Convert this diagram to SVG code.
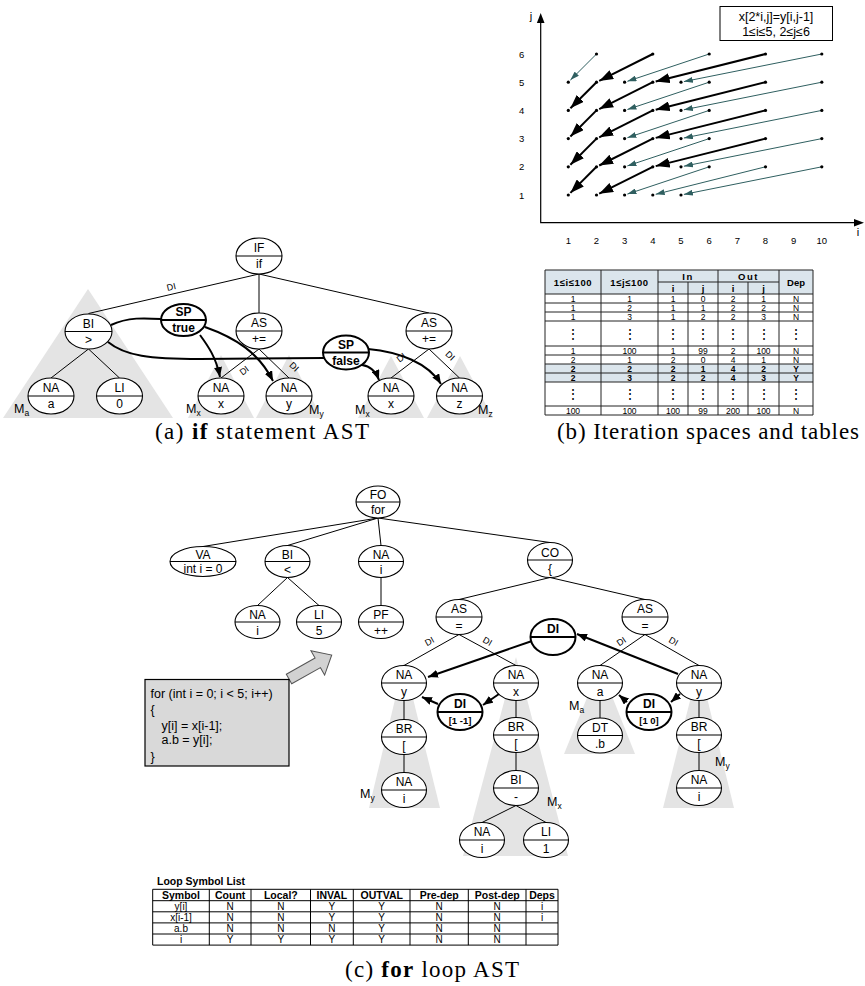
<svg xmlns="http://www.w3.org/2000/svg" width="865" height="986" viewBox="0 0 865 986">
<style>
  text { font-family: "Liberation Sans", Arial, sans-serif; fill: #000; }
  .n ellipse { fill: #fff; stroke: #000; stroke-width: 1.1; }
  .n line { stroke: #000; stroke-width: 1.1; }
  .n text { font-size: 12px; text-anchor: middle; }
  .n.b ellipse { stroke-width: 2; }
  .n.b line { stroke-width: 1.8; }
  .n.b text { font-weight: bold; }
  .n.b text.s { font-size: 9.5px; }
  .e line, .e path { stroke: #000; stroke-width: 1; fill: none; }
  .e .k { stroke-width: 2; }
  .sh { fill: #e4e4e4; }
  .lbl { font-size: 9px; text-anchor: middle; }
  .m { font-size: 12.5px; }
  .m tspan { font-size: 8.5px; }
  .ax { stroke: #000; stroke-width: 1.2; fill: none; }
  .tk { font-size: 9.5px; text-anchor: middle; }
  .pt { fill: #000; }
  .thin { stroke: #2f5f60; stroke-width: 1; fill: none; marker-end: url(#hT); }
  .thick { stroke: #000; stroke-width: 2; fill: none; marker-end: url(#hK); }
  .grid line { stroke: #222; stroke-width: 1; }
  .tb { font-size: 8.5px; text-anchor: middle; }
  .th { font-size: 9.5px; font-weight: bold; text-anchor: middle; }
  .vd { font-family: "DejaVu Sans", sans-serif; font-size: 14px; text-anchor: middle; }
  .lt line { stroke: #000; stroke-width: 1; }
  .lh { font-size: 10.5px; font-weight: bold; text-anchor: middle; }
  .ld { font-size: 10px; text-anchor: middle; }
  .cap { font-family: "Liberation Serif", "Times New Roman", serif; font-size: 23px; text-anchor: middle; }
  .code { font-size: 12.5px; }
</style>
<defs>
  <marker id="h" viewBox="0 0 10 8" refX="10" refY="4" markerWidth="10" markerHeight="8" markerUnits="userSpaceOnUse" orient="auto">
    <path d="M0,0 L10,4 L0,8 z" fill="#000"/>
  </marker>
  <marker id="hT" viewBox="0 0 9 6" refX="9" refY="3" markerWidth="9" markerHeight="6" markerUnits="userSpaceOnUse" orient="auto">
    <path d="M0,0 L9,3 L0,6 z" fill="#2f5f60"/>
  </marker>
  <marker id="hK" viewBox="0 0 14 10" refX="14" refY="5" markerWidth="14" markerHeight="10" markerUnits="userSpaceOnUse" orient="auto">
    <path d="M0,0 L14,5 L0,10 z" fill="#000"/>
  </marker>
</defs>
<rect width="865" height="986" fill="#fff"/>

<!-- ===== (a) if statement AST ===== -->
<g id="a-scopes">
  <polygon class="sh" points="88,289 173,418 3,418"/>
  <polygon class="sh" points="221,355 254,418 188,418"/>
  <polygon class="sh" points="289,355 322,418 256,418"/>
  <polygon class="sh" points="391,356 424,418 358,418"/>
  <polygon class="sh" points="460,356 493,418 427,418"/>
  <text class="m" x="14" y="413">M<tspan dy="3">a</tspan></text>
  <text class="m" x="186" y="413">M<tspan dy="3">x</tspan></text>
  <text class="m" x="309" y="414">M<tspan dy="3">y</tspan></text>
  <text class="m" x="355" y="414">M<tspan dy="3">x</tspan></text>
  <text class="m" x="478" y="414">M<tspan dy="3">z</tspan></text>
</g>

<g id="a-edges" class="e">
  <line x1="259" y1="274" x2="88.5" y2="313.5"/>
  <line x1="259" y1="274" x2="259" y2="313"/>
  <line x1="259" y1="274" x2="429" y2="313"/>
  <line x1="88.5" y1="349" x2="51" y2="378"/>
  <line x1="88.5" y1="349" x2="119.5" y2="378"/>
  <line x1="259" y1="349" x2="221" y2="378"/>
  <line x1="259" y1="349" x2="289" y2="378"/>
  <line x1="429" y1="349" x2="391" y2="378"/>
  <line x1="429" y1="349" x2="459.5" y2="378"/>
  <path class="k" d="M111,325 C128,317 145,318 161,319"/>
  <path class="k" d="M108,342 C125,356 150,359 200,359 L324,358"/>
  <path class="k" d="M200,335 C208,346 216,357 220,377" marker-end="url(#h)"/>
  <path class="k" d="M205,327 C236,338 259,353 273,381" marker-end="url(#h)"/>
  <path class="k" d="M362,365 C370,366 376,372 379,380" marker-end="url(#h)"/>
  <path class="k" d="M368,349 C400,352 428,363 441,384" marker-end="url(#h)"/>
  <text class="lbl" transform="translate(172,290) rotate(-13.2)">DI</text>
  <text class="lbl" transform="translate(246,373) rotate(-37)">DI</text>
  <text class="lbl" transform="translate(292,369) rotate(44)">DI</text>
  <text class="lbl" transform="translate(403,360) rotate(-37)">DI</text>
  <text class="lbl" transform="translate(448,358) rotate(44)">DI</text>
</g>

<g id="a-if" class="n"><ellipse cx="259" cy="256" rx="23" ry="18"/><line x1="236" y1="256" x2="282" y2="256"/><text x="259" y="252">IF</text><text x="259" y="268">if</text></g>
<g id="a-bi" class="n"><ellipse cx="88.5" cy="331.5" rx="23.5" ry="17.5"/><line x1="65" y1="331.5" x2="112" y2="331.5"/><text x="88.5" y="327.5">BI</text><text x="88.5" y="343.5">&gt;</text></g>
<g id="a-sp-true" class="n b"><ellipse cx="183.5" cy="320" rx="22.5" ry="16"/><line x1="161" y1="320" x2="206" y2="320"/><text x="183.5" y="316">SP</text><text x="183.5" y="331.5">true</text></g>
<g id="a-as1" class="n"><ellipse cx="259" cy="331" rx="23" ry="18"/><line x1="236" y1="331" x2="282" y2="331"/><text x="259" y="327">AS</text><text x="259" y="343">+=</text></g>
<g id="a-as2" class="n"><ellipse cx="429" cy="331" rx="23" ry="18"/><line x1="406" y1="331" x2="452" y2="331"/><text x="429" y="327">AS</text><text x="429" y="343">+=</text></g>
<g id="a-sp-false" class="n b"><ellipse cx="346" cy="352.5" rx="23" ry="17"/><line x1="323" y1="352.5" x2="369" y2="352.5"/><text x="346" y="348.5">SP</text><text x="346" y="364.5">false</text></g>
<g id="a-na-a" class="n"><ellipse cx="51" cy="396" rx="23" ry="18"/><line x1="28" y1="396" x2="74" y2="396"/><text x="51" y="392">NA</text><text x="51" y="408">a</text></g>
<g id="a-li-0" class="n"><ellipse cx="119.5" cy="396" rx="23" ry="18"/><line x1="96.5" y1="396" x2="142.5" y2="396"/><text x="119.5" y="392">LI</text><text x="119.5" y="408">0</text></g>
<g id="a-na-x" class="n"><ellipse cx="221" cy="396" rx="23" ry="18"/><line x1="198" y1="396" x2="244" y2="396"/><text x="221" y="392">NA</text><text x="221" y="408">x</text></g>
<g id="a-na-y" class="n"><ellipse cx="289" cy="396" rx="23" ry="18"/><line x1="266" y1="396" x2="312" y2="396"/><text x="289" y="392">NA</text><text x="289" y="408">y</text></g>
<g id="a-na-x2" class="n"><ellipse cx="391" cy="396" rx="23" ry="18"/><line x1="368" y1="396" x2="414" y2="396"/><text x="391" y="392">NA</text><text x="391" y="408">x</text></g>
<g id="a-na-z" class="n"><ellipse cx="459.5" cy="396" rx="23" ry="18"/><line x1="436.5" y1="396" x2="482.5" y2="396"/><text x="459.5" y="392">NA</text><text x="459.5" y="408">z</text></g>

<!-- ===== (b) iteration space ===== -->
<g id="b-box">
  <rect x="720" y="6.5" width="112.5" height="34" fill="#fff" stroke="#000" stroke-width="1"/>
  <text x="776" y="20.5" font-size="12.5" text-anchor="middle">x[2*i,j]=y[i,j-1]</text>
  <text x="776" y="36" font-size="12.5" text-anchor="middle">1≤i≤5, 2≤j≤6</text>
</g>
<g id="b-axes">
  <path class="ax" d="M540.7,22 V222.7 H855"/>
  <path d="M540.7,13 L544.5,23 L536.9,23 z" fill="#000"/>
  <path d="M864,222.7 L854,218.9 L854,226.5 z" fill="#000"/>
  <text x="531" y="20" font-size="11" text-anchor="middle">j</text>
  <text x="858" y="236" font-size="11" text-anchor="middle">i</text>
  <text class="tk" x="521.7" y="198.5">1</text>
  <text class="tk" x="521.7" y="170.3">2</text>
  <text class="tk" x="521.7" y="142.1">3</text>
  <text class="tk" x="521.7" y="113.9">4</text>
  <text class="tk" x="521.7" y="85.7">5</text>
  <text class="tk" x="521.7" y="57.5">6</text>
  <text class="tk" x="568.3" y="243.5">1</text>
  <text class="tk" x="596.5" y="243.5">2</text>
  <text class="tk" x="624.6" y="243.5">3</text>
  <text class="tk" x="652.8" y="243.5">4</text>
  <text class="tk" x="681" y="243.5">5</text>
  <text class="tk" x="709.2" y="243.5">6</text>
  <text class="tk" x="737.3" y="243.5">7</text>
  <text class="tk" x="765.5" y="243.5">8</text>
  <text class="tk" x="793.7" y="243.5">9</text>
  <text class="tk" x="821.8" y="243.5">10</text>
</g>
<g id="b-deps">
  <line class="thin" x1="596.5" y1="54" x2="570.4" y2="80.1"/>
  <line class="thin" x1="709.2" y1="54" x2="627.4" y2="81.3"/>
  <line class="thin" x1="821.8" y1="54" x2="683.9" y2="81.6"/>
  <line class="thin" x1="709.2" y1="82.2" x2="627.4" y2="109.5"/>
  <line class="thin" x1="821.8" y1="82.2" x2="683.9" y2="109.8"/>
  <line class="thin" x1="709.2" y1="110.4" x2="627.4" y2="137.7"/>
  <line class="thin" x1="821.8" y1="110.4" x2="683.9" y2="138"/>
  <line class="thin" x1="709.2" y1="138.6" x2="627.4" y2="165.9"/>
  <line class="thin" x1="821.8" y1="138.6" x2="683.9" y2="166.2"/>
  <line class="thin" x1="709.2" y1="166.8" x2="627.4" y2="194.1"/>
  <line class="thin" x1="821.8" y1="166.8" x2="683.9" y2="194.4"/>
  <line class="thin" x1="765.5" y1="166.8" x2="655.7" y2="194.3"/>
  <line class="thick" x1="652.8" y1="54" x2="599.2" y2="80.9"/>
  <line class="thick" x1="765.5" y1="54" x2="655.7" y2="81.5"/>
  <line class="thick" x1="596.5" y1="82.2" x2="570.4" y2="108.3"/>
  <line class="thick" x1="652.8" y1="82.2" x2="599.2" y2="109.1"/>
  <line class="thick" x1="765.5" y1="82.2" x2="655.7" y2="109.7"/>
  <line class="thick" x1="596.5" y1="110.4" x2="570.4" y2="136.5"/>
  <line class="thick" x1="652.8" y1="110.4" x2="599.2" y2="137.3"/>
  <line class="thick" x1="765.5" y1="110.4" x2="655.7" y2="137.9"/>
  <line class="thick" x1="596.5" y1="138.6" x2="570.4" y2="164.7"/>
  <line class="thick" x1="652.8" y1="138.6" x2="599.2" y2="165.5"/>
  <line class="thick" x1="765.5" y1="138.6" x2="655.7" y2="166.1"/>
  <line class="thick" x1="596.5" y1="166.8" x2="570.4" y2="192.9"/>
  <line class="thick" x1="652.8" y1="166.8" x2="599.2" y2="193.7"/>
</g>
<g id="b-points" class="pt">
  <circle cx="596.5" cy="54" r="1.6"/><circle cx="652.8" cy="54" r="1.6"/><circle cx="709.2" cy="54" r="1.6"/><circle cx="765.5" cy="54" r="1.6"/><circle cx="821.8" cy="54" r="1.6"/>
  <circle cx="568.3" cy="82.2" r="1.6"/><circle cx="596.5" cy="82.2" r="1.6"/><circle cx="624.6" cy="82.2" r="1.6"/><circle cx="652.8" cy="82.2" r="1.6"/><circle cx="681" cy="82.2" r="1.6"/><circle cx="709.2" cy="82.2" r="1.6"/><circle cx="765.5" cy="82.2" r="1.6"/><circle cx="821.8" cy="82.2" r="1.6"/>
  <circle cx="568.3" cy="110.4" r="1.6"/><circle cx="596.5" cy="110.4" r="1.6"/><circle cx="624.6" cy="110.4" r="1.6"/><circle cx="652.8" cy="110.4" r="1.6"/><circle cx="681" cy="110.4" r="1.6"/><circle cx="709.2" cy="110.4" r="1.6"/><circle cx="765.5" cy="110.4" r="1.6"/><circle cx="821.8" cy="110.4" r="1.6"/>
  <circle cx="568.3" cy="138.6" r="1.6"/><circle cx="596.5" cy="138.6" r="1.6"/><circle cx="624.6" cy="138.6" r="1.6"/><circle cx="652.8" cy="138.6" r="1.6"/><circle cx="681" cy="138.6" r="1.6"/><circle cx="709.2" cy="138.6" r="1.6"/><circle cx="765.5" cy="138.6" r="1.6"/><circle cx="821.8" cy="138.6" r="1.6"/>
  <circle cx="568.3" cy="166.8" r="1.6"/><circle cx="596.5" cy="166.8" r="1.6"/><circle cx="624.6" cy="166.8" r="1.6"/><circle cx="652.8" cy="166.8" r="1.6"/><circle cx="681" cy="166.8" r="1.6"/><circle cx="709.2" cy="166.8" r="1.6"/><circle cx="765.5" cy="166.8" r="1.6"/><circle cx="821.8" cy="166.8" r="1.6"/>
  <circle cx="568.3" cy="195" r="1.6"/><circle cx="596.5" cy="195" r="1.6"/><circle cx="624.6" cy="195" r="1.6"/><circle cx="652.8" cy="195" r="1.6"/><circle cx="681" cy="195" r="1.6"/>
</g>

<!-- ===== (b) dependence table ===== -->
<g id="b-table">
  <rect x="545" y="270" width="268" height="24" fill="#dbe5ec"/>
  <rect x="545" y="364" width="268" height="18" fill="#dbe5ec"/>
  <g class="grid">
    <line x1="545" y1="270" x2="813" y2="270"/>
    <line x1="658" y1="282" x2="779" y2="282"/>
    <line x1="545" y1="294" x2="813" y2="294"/>
    <line x1="545" y1="303" x2="813" y2="303"/>
    <line x1="545" y1="312" x2="813" y2="312"/>
    <line x1="545" y1="321" x2="813" y2="321"/>
    <line x1="545" y1="346" x2="813" y2="346"/>
    <line x1="545" y1="355" x2="813" y2="355"/>
    <line x1="545" y1="364" x2="813" y2="364"/>
    <line x1="545" y1="373" x2="813" y2="373"/>
    <line x1="545" y1="382" x2="813" y2="382"/>
    <line x1="545" y1="406" x2="813" y2="406"/>
    <line x1="545" y1="415" x2="813" y2="415"/>
    <line x1="545" y1="270" x2="545" y2="415"/>
    <line x1="601" y1="270" x2="601" y2="415"/>
    <line x1="658" y1="270" x2="658" y2="415"/>
    <line x1="688" y1="282" x2="688" y2="415"/>
    <line x1="718" y1="270" x2="718" y2="415"/>
    <line x1="748" y1="282" x2="748" y2="415"/>
    <line x1="779" y1="270" x2="779" y2="415"/>
    <line x1="813" y1="270" x2="813" y2="415"/>
  </g>
  <text class="th" x="573" y="286" letter-spacing="0.6">1≤i≤100</text>
  <text class="th" x="629.5" y="286" letter-spacing="0.6">1≤j≤100</text>
  <text class="th" x="688" y="280" letter-spacing="1.5">In</text>
  <text class="th" x="748.5" y="280" letter-spacing="1.5">Out</text>
  <text class="th" x="796" y="286">Dep</text>
  <text class="th" x="673" y="292">i</text><text class="th" x="703" y="292">j</text><text class="th" x="733" y="292">i</text><text class="th" x="763.5" y="292">j</text>
  <g class="tb">
    <text x="573" y="301.5">1</text><text x="629.5" y="301.5">1</text><text x="673" y="301.5">1</text><text x="703" y="301.5">0</text><text x="733" y="301.5">2</text><text x="763.5" y="301.5">1</text><text x="796" y="301.5">N</text>
    <text x="573" y="310.5">1</text><text x="629.5" y="310.5">2</text><text x="673" y="310.5">1</text><text x="703" y="310.5">1</text><text x="733" y="310.5">2</text><text x="763.5" y="310.5">2</text><text x="796" y="310.5">N</text>
    <text x="573" y="319.5">1</text><text x="629.5" y="319.5">3</text><text x="673" y="319.5">1</text><text x="703" y="319.5">2</text><text x="733" y="319.5">2</text><text x="763.5" y="319.5">3</text><text x="796" y="319.5">N</text>
    <text x="573" y="353.5">1</text><text x="629.5" y="353.5">100</text><text x="673" y="353.5">1</text><text x="703" y="353.5">99</text><text x="733" y="353.5">2</text><text x="763.5" y="353.5">100</text><text x="796" y="353.5">N</text>
    <text x="573" y="362.5">2</text><text x="629.5" y="362.5">1</text><text x="673" y="362.5">2</text><text x="703" y="362.5">0</text><text x="733" y="362.5">4</text><text x="763.5" y="362.5">1</text><text x="796" y="362.5">N</text>
    <g font-weight="bold">
      <text x="573" y="371.5">2</text><text x="629.5" y="371.5">2</text><text x="673" y="371.5">2</text><text x="703" y="371.5">1</text><text x="733" y="371.5">4</text><text x="763.5" y="371.5">2</text><text x="796" y="371.5">Y</text>
      <text x="573" y="380.5">2</text><text x="629.5" y="380.5">3</text><text x="673" y="380.5">2</text><text x="703" y="380.5">2</text><text x="733" y="380.5">4</text><text x="763.5" y="380.5">3</text><text x="796" y="380.5">Y</text>
    </g>
    <text x="573" y="413.5">100</text><text x="629.5" y="413.5">100</text><text x="673" y="413.5">100</text><text x="703" y="413.5">99</text><text x="733" y="413.5">200</text><text x="763.5" y="413.5">100</text><text x="796" y="413.5">N</text>
  </g>
  <g class="vd">
    <text x="573" y="339">⋮</text><text x="629.5" y="339">⋮</text><text x="673" y="339">⋮</text><text x="703" y="339">⋮</text><text x="733" y="339">⋮</text><text x="763.5" y="339">⋮</text><text x="796" y="339">⋮</text>
    <text x="573" y="399">⋮</text><text x="629.5" y="399">⋮</text><text x="673" y="399">⋮</text><text x="703" y="399">⋮</text><text x="733" y="399">⋮</text><text x="763.5" y="399">⋮</text><text x="796" y="399">⋮</text>
  </g>
</g>

<text class="cap" x="262" y="439" textLength="214" lengthAdjust="spacing">(a) <tspan font-weight="bold">if</tspan> statement AST</text>
<text class="cap" x="708" y="439" textLength="302" lengthAdjust="spacing">(b) Iteration spaces and tables</text>

<!-- ===== (c) for loop AST ===== -->
<g id="c-scopes">
  <polygon class="sh" points="404,662 440,808 369,808"/>
  <polygon class="sh" points="516,657 568,856 463,856"/>
  <polygon class="sh" points="600,666 635,754 564,754"/>
  <polygon class="sh" points="699,665 734,808 663,808"/>
  <text class="m" x="360" y="798">M<tspan dy="3">y</tspan></text>
  <text class="m" x="547" y="806">M<tspan dy="3">x</tspan></text>
  <text class="m" x="569" y="710">M<tspan dy="3">a</tspan></text>
  <text class="m" x="715" y="766">M<tspan dy="3">y</tspan></text>
</g>

<g id="c-edges" class="e">
  <line x1="378" y1="518" x2="203" y2="546.5"/>
  <line x1="378" y1="518" x2="287.5" y2="545.5"/>
  <line x1="378" y1="518" x2="381" y2="545.5"/>
  <line x1="378" y1="518" x2="550" y2="542.5"/>
  <line x1="287.5" y1="577.5" x2="257.5" y2="605.5"/>
  <line x1="287.5" y1="577.5" x2="319" y2="605.5"/>
  <line x1="381" y1="577.5" x2="381" y2="605.5"/>
  <line x1="550" y1="577.5" x2="459" y2="599.5"/>
  <line x1="550" y1="577.5" x2="645" y2="599.5"/>
  <line x1="459" y1="634.5" x2="404" y2="665.5"/>
  <line x1="459" y1="634.5" x2="516" y2="665.5"/>
  <line x1="645" y1="634.5" x2="600" y2="665.5"/>
  <line x1="645" y1="634.5" x2="699" y2="665.5"/>
  <line x1="516" y1="700.5" x2="516" y2="717.5"/>
  <line x1="516" y1="752.5" x2="516" y2="770.5"/>
  <line x1="516" y1="805.5" x2="482" y2="822.5"/>
  <line x1="516" y1="805.5" x2="546" y2="822.5"/>
  <line x1="600" y1="700.5" x2="600" y2="718"/>
  <line x1="699" y1="700.5" x2="699" y2="717.5"/>
  <line x1="699" y1="752.5" x2="699" y2="770.5"/>
  <line x1="404" y1="700.5" x2="404" y2="719.5"/>
  <line x1="404" y1="754.5" x2="404" y2="772.5"/>
  <path class="k" d="M532,641 L428,677" marker-end="url(#h)"/>
  <path class="k" d="M678,674 L577,634" marker-end="url(#h)"/>
  <path class="k" d="M499,694 L483,705" marker-end="url(#h)"/>
  <path class="k" d="M438,704 L422,697" marker-end="url(#h)"/>
  <path class="k" d="M680,694 L671,702" marker-end="url(#h)"/>
  <path class="k" d="M627,702 L619,695" marker-end="url(#h)"/>
  <text class="lbl" transform="translate(431,644) rotate(-29)">DI</text>
  <text class="lbl" transform="translate(486,644) rotate(29)">DI</text>
  <text class="lbl" transform="translate(623,644) rotate(-34)">DI</text>
  <text class="lbl" transform="translate(672,644) rotate(30)">DI</text>
</g>

<g id="c-fo" class="n"><ellipse cx="378" cy="502" rx="22" ry="16"/><line x1="356" y1="502" x2="400" y2="502"/><text x="378" y="499">FO</text><text x="378" y="514">for</text></g>
<g id="c-va" class="n"><ellipse cx="203" cy="561.5" rx="33" ry="15"/><line x1="170" y1="561.5" x2="236" y2="561.5"/><text x="203" y="558.5">VA</text><text x="203" y="573">int i = 0</text></g>
<g id="c-bi-lt" class="n"><ellipse cx="287.5" cy="561.5" rx="22.5" ry="16"/><line x1="265" y1="561.5" x2="310" y2="561.5"/><text x="287.5" y="558.5">BI</text><text x="287.5" y="574">&lt;</text></g>
<g id="c-na-i1" class="n"><ellipse cx="381" cy="561.5" rx="22.5" ry="16"/><line x1="358.5" y1="561.5" x2="403.5" y2="561.5"/><text x="381" y="558.5">NA</text><text x="381" y="574">i</text></g>
<g id="c-co" class="n"><ellipse cx="550" cy="560" rx="22.5" ry="17.5"/><line x1="527.5" y1="560" x2="572.5" y2="560"/><text x="550" y="556.5">CO</text><text x="550" y="573">{</text></g>
<g id="c-na-i2" class="n"><ellipse cx="257.5" cy="622" rx="22.5" ry="16.5"/><line x1="235" y1="622" x2="280" y2="622"/><text x="257.5" y="618.5">NA</text><text x="257.5" y="634.5">i</text></g>
<g id="c-li-5" class="n"><ellipse cx="319" cy="622" rx="22.5" ry="16.5"/><line x1="296.5" y1="622" x2="341.5" y2="622"/><text x="319" y="618.5">LI</text><text x="319" y="634.5">5</text></g>
<g id="c-pf" class="n"><ellipse cx="381" cy="622" rx="22.5" ry="16.5"/><line x1="358.5" y1="622" x2="403.5" y2="622"/><text x="381" y="618.5">PF</text><text x="381" y="634.5">++</text></g>
<g id="c-as1" class="n"><ellipse cx="459" cy="617" rx="23" ry="17.5"/><line x1="436" y1="617" x2="482" y2="617"/><text x="459" y="613">AS</text><text x="459" y="629.5">=</text></g>
<g id="c-as2" class="n"><ellipse cx="645" cy="617" rx="23" ry="17.5"/><line x1="622" y1="617" x2="668" y2="617"/><text x="645" y="613">AS</text><text x="645" y="629.5">=</text></g>
<g id="c-di" class="n b"><ellipse cx="553" cy="637" rx="22.5" ry="18"/><line x1="530.5" y1="637" x2="575.5" y2="637"/><text x="553" y="633">DI</text></g>
<g id="c-na-y1" class="n"><ellipse cx="404" cy="683" rx="22.5" ry="17.5"/><line x1="381.5" y1="683" x2="426.5" y2="683"/><text x="404" y="679">NA</text><text x="404" y="695.5">y</text></g>
<g id="c-na-x" class="n"><ellipse cx="516" cy="683" rx="22.5" ry="17.5"/><line x1="493.5" y1="683" x2="538.5" y2="683"/><text x="516" y="679">NA</text><text x="516" y="695.5">x</text></g>
<g id="c-na-a" class="n"><ellipse cx="600" cy="683" rx="22.5" ry="17.5"/><line x1="577.5" y1="683" x2="622.5" y2="683"/><text x="600" y="679">NA</text><text x="600" y="695.5">a</text></g>
<g id="c-na-y2" class="n"><ellipse cx="699" cy="683" rx="22.5" ry="17.5"/><line x1="676.5" y1="683" x2="721.5" y2="683"/><text x="699" y="679">NA</text><text x="699" y="695.5">y</text></g>
<g id="c-di1" class="n b"><ellipse cx="460" cy="712" rx="22.5" ry="18"/><line x1="437.5" y1="712" x2="482.5" y2="712"/><text x="460" y="708">DI</text><text class="s" x="460" y="723.5">[1 -1]</text></g>
<g id="c-di2" class="n b"><ellipse cx="649" cy="712" rx="22.5" ry="18"/><line x1="626.5" y1="712" x2="671.5" y2="712"/><text x="649" y="708">DI</text><text class="s" x="649" y="723.5">[1 0]</text></g>
<g id="c-br1" class="n"><ellipse cx="404" cy="737" rx="22.5" ry="17.5"/><line x1="381.5" y1="737" x2="426.5" y2="737"/><text x="404" y="733">BR</text><text x="404" y="749.5">[</text></g>
<g id="c-br2" class="n"><ellipse cx="516" cy="735" rx="22.5" ry="17.5"/><line x1="493.5" y1="735" x2="538.5" y2="735"/><text x="516" y="731">BR</text><text x="516" y="747.5">[</text></g>
<g id="c-dt" class="n"><ellipse cx="600" cy="735.5" rx="22.5" ry="17.5"/><line x1="577.5" y1="735.5" x2="622.5" y2="735.5"/><text x="600" y="731.5">DT</text><text x="600" y="748">.b</text></g>
<g id="c-br3" class="n"><ellipse cx="699" cy="735" rx="22.5" ry="17.5"/><line x1="676.5" y1="735" x2="721.5" y2="735"/><text x="699" y="731">BR</text><text x="699" y="747.5">[</text></g>
<g id="c-na-i3" class="n"><ellipse cx="404" cy="790" rx="22.5" ry="17.5"/><line x1="381.5" y1="790" x2="426.5" y2="790"/><text x="404" y="786">NA</text><text x="404" y="802.5">i</text></g>
<g id="c-bi-minus" class="n"><ellipse cx="516" cy="788" rx="22.5" ry="17.5"/><line x1="493.5" y1="788" x2="538.5" y2="788"/><text x="516" y="784">BI</text><text x="516" y="800.5">-</text></g>
<g id="c-na-i4" class="n"><ellipse cx="699" cy="788" rx="22.5" ry="17.5"/><line x1="676.5" y1="788" x2="721.5" y2="788"/><text x="699" y="784">NA</text><text x="699" y="800.5">i</text></g>
<g id="c-na-i5" class="n"><ellipse cx="482" cy="840" rx="22.5" ry="17.5"/><line x1="459.5" y1="840" x2="504.5" y2="840"/><text x="482" y="836">NA</text><text x="482" y="852.5">i</text></g>
<g id="c-li-1" class="n"><ellipse cx="546" cy="840" rx="22.5" ry="17.5"/><line x1="523.5" y1="840" x2="568.5" y2="840"/><text x="546" y="836">LI</text><text x="546" y="852.5">1</text></g>

<!-- source listing and pointer -->
<g id="c-code">
  <polygon transform="translate(289,679) rotate(-29.3)" points="0,-5.5 33,-5.5 33,-14 49,0 33,14 33,5.5 0,5.5" fill="#d2d2d2" stroke="#555" stroke-width="1"/>
  <rect x="145" y="679.5" width="144" height="86.5" fill="#d9d9d9" stroke="#000" stroke-width="1.2"/>
  <text class="code" x="150.5" y="697.5">for (int i = 0; i &lt; 5; i++)</text>
  <text class="code" x="150.5" y="714">{</text>
  <text class="code" x="161.5" y="730">y[i] = x[i-1];</text>
  <text class="code" x="161.5" y="744">a.b = y[i];</text>
  <text class="code" x="150.5" y="760.5">}</text>
</g>

<!-- loop symbol list -->
<g id="c-symbols">
  <text x="157" y="885" font-size="10.5" font-weight="bold">Loop Symbol List</text>
  <g class="lt">
    <line x1="152.7" y1="889.3" x2="558" y2="889.3"/>
    <line x1="152.7" y1="900.7" x2="558" y2="900.7"/>
    <line x1="152.7" y1="911.8" x2="558" y2="911.8"/>
    <line x1="152.7" y1="922.9" x2="558" y2="922.9"/>
    <line x1="152.7" y1="934" x2="558" y2="934"/>
    <line x1="152.7" y1="945.1" x2="558" y2="945.1"/>
    <line x1="152.7" y1="889.3" x2="152.7" y2="945.1"/>
    <line x1="209.3" y1="889.3" x2="209.3" y2="945.1"/>
    <line x1="251" y1="889.3" x2="251" y2="945.1"/>
    <line x1="310.5" y1="889.3" x2="310.5" y2="945.1"/>
    <line x1="353.3" y1="889.3" x2="353.3" y2="945.1"/>
    <line x1="410" y1="889.3" x2="410" y2="945.1"/>
    <line x1="468.3" y1="889.3" x2="468.3" y2="945.1"/>
    <line x1="526" y1="889.3" x2="526" y2="945.1"/>
    <line x1="558" y1="889.3" x2="558" y2="945.1"/>
  </g>
  <g class="lh">
    <text x="181" y="899">Symbol</text><text x="230.2" y="899">Count</text><text x="280.8" y="899">Local?</text><text x="331.9" y="899">INVAL</text><text x="381.7" y="899">OUTVAL</text><text x="439.2" y="899">Pre-dep</text><text x="497.2" y="899">Post-dep</text><text x="542" y="899">Deps</text>
  </g>
  <g class="ld">
    <text x="181" y="909.5">y[i]</text><text x="230.2" y="909.5">N</text><text x="280.8" y="909.5">N</text><text x="331.9" y="909.5">Y</text><text x="381.7" y="909.5">Y</text><text x="439.2" y="909.5">N</text><text x="497.2" y="909.5">N</text><text x="542" y="909.5">i</text>
    <text x="181" y="920.6">x[i-1]</text><text x="230.2" y="920.6">N</text><text x="280.8" y="920.6">N</text><text x="331.9" y="920.6">Y</text><text x="381.7" y="920.6">Y</text><text x="439.2" y="920.6">N</text><text x="497.2" y="920.6">N</text><text x="542" y="920.6">i</text>
    <text x="181" y="931.7">a.b</text><text x="230.2" y="931.7">N</text><text x="280.8" y="931.7">N</text><text x="331.9" y="931.7">N</text><text x="381.7" y="931.7">Y</text><text x="439.2" y="931.7">N</text><text x="497.2" y="931.7">N</text>
    <text x="181" y="942.8">i</text><text x="230.2" y="942.8">Y</text><text x="280.8" y="942.8">Y</text><text x="331.9" y="942.8">Y</text><text x="381.7" y="942.8">Y</text><text x="439.2" y="942.8">N</text><text x="497.2" y="942.8">N</text>
  </g>
</g>

<text class="cap" x="432" y="977" textLength="174" lengthAdjust="spacing">(c) <tspan font-weight="bold">for</tspan> loop AST</text>
</svg>
